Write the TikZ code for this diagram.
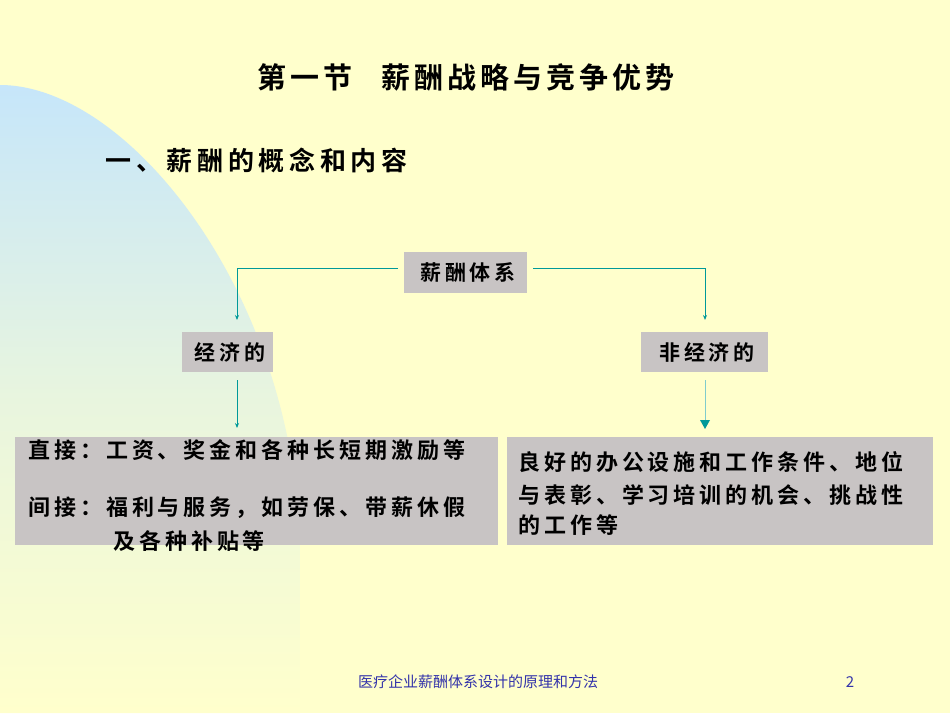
\documentclass[tikz,border=0pt]{standalone}
\usepackage{fontspec}
\usetikzlibrary{arrows.meta}
\newfontfamily\cjk{Noto Sans CJK SC}
\newfontfamily\cjkb[LetterSpace=18]{Noto Sans CJK SC Bold}
\newfontfamily\cjkt[LetterSpace=14]{Noto Sans CJK SC Bold}
\definecolor{bg}{HTML}{FFFFCC}
\definecolor{sky}{HTML}{C6E6FA}
\definecolor{boxg}{HTML}{C8C4C4}
\definecolor{teal}{HTML}{009999}
\definecolor{foot}{HTML}{3333AA}
\begin{document}
\begin{tikzpicture}[x=1pt,y=-1pt,
  gbox/.style={fill=boxg,inner sep=0pt},
  lab/.style={font=\cjkb\fontsize{21}{26}\selectfont},
  conn/.style={teal,line width=0.9pt,-{Stealth[length=5pt,width=4pt]}},
  txt/.style={anchor=west,inner sep=0pt,font=\cjkb\fontsize{22}{24}\selectfont}]
\fill[bg] (0,0) rectangle (950,713);
\useasboundingbox (0,0) rectangle (950,713);
\shade[top color=sky,bottom color=bg,middle color=sky!40!bg] (0,85) .. controls (130,85) and (300,300) .. (300,560) -- (300,713) -- (0,713) -- cycle;
\node[font=\cjkt\fontsize{29}{34}\selectfont] (title) at (466,77) {第一节\quad 薪酬战略与竞争优势};
\node[anchor=west,font=\cjkb\fontsize{26}{30}\selectfont] (sub) at (102,160) {一、薪酬的概念和内容};
\path[gbox] (404,252) rectangle (527,293);
\node[lab] (root) at (468,272.5) {薪酬体系};
\path[gbox] (182,332) rectangle (273,372);
\node[lab] (eco) at (230,352) {经济的};
\path[gbox] (641,332) rectangle (768,372);
\node[lab] (neco) at (707,352) {非经济的};
\path[gbox] (15,437) rectangle (498,545);
\path[gbox] (507,437) rectangle (933,545);
\coordinate (L) at (237,268);
\coordinate (R) at (705,268);
\coordinate (Lt) at (237,320);
\coordinate (Rt) at (705,320);
\coordinate (L2) at (237,380);
\coordinate (L3) at (237,428);
\coordinate (R2) at (705,380);
\coordinate (R3) at (705,428);
\coordinate (La) at (398,268);
\coordinate (Ra) at (533,268);
\draw[conn] (La) -- (L) -- (Lt);
\draw[conn] (Ra) -- (R) -- (Rt);
\draw[conn] (L2) -- (L3);
\draw[teal!50,line width=0.7pt] (R2) -- (R3);
\fill[teal] (700,420) -- (710,420) -- (705,429) -- cycle;
\node[txt] (d1) at (28,450) {直接：工资、奖金和各种长短期激励等};
\node[txt] (d2) at (28,508) {间接：福利与服务，如劳保、带薪休假};
\node[txt] (d3) at (113,541) {及各种补贴等};
\node[txt] (n1) at (518,462) {良好的办公设施和工作条件、地位};
\node[txt] (n2) at (518,495) {与表彰、学习培训的机会、挑战性};
\node[txt] (n3) at (518,525) {的工作等};
\node[font=\cjk\fontsize{15}{17}\selectfont,text=foot] (ft) at (478,682) {医疗企业薪酬体系设计的原理和方法};
\node[font=\cjk\fontsize{15}{17}\selectfont,text=foot] (pg) at (850,682) {2};
\end{tikzpicture}
\end{document}
